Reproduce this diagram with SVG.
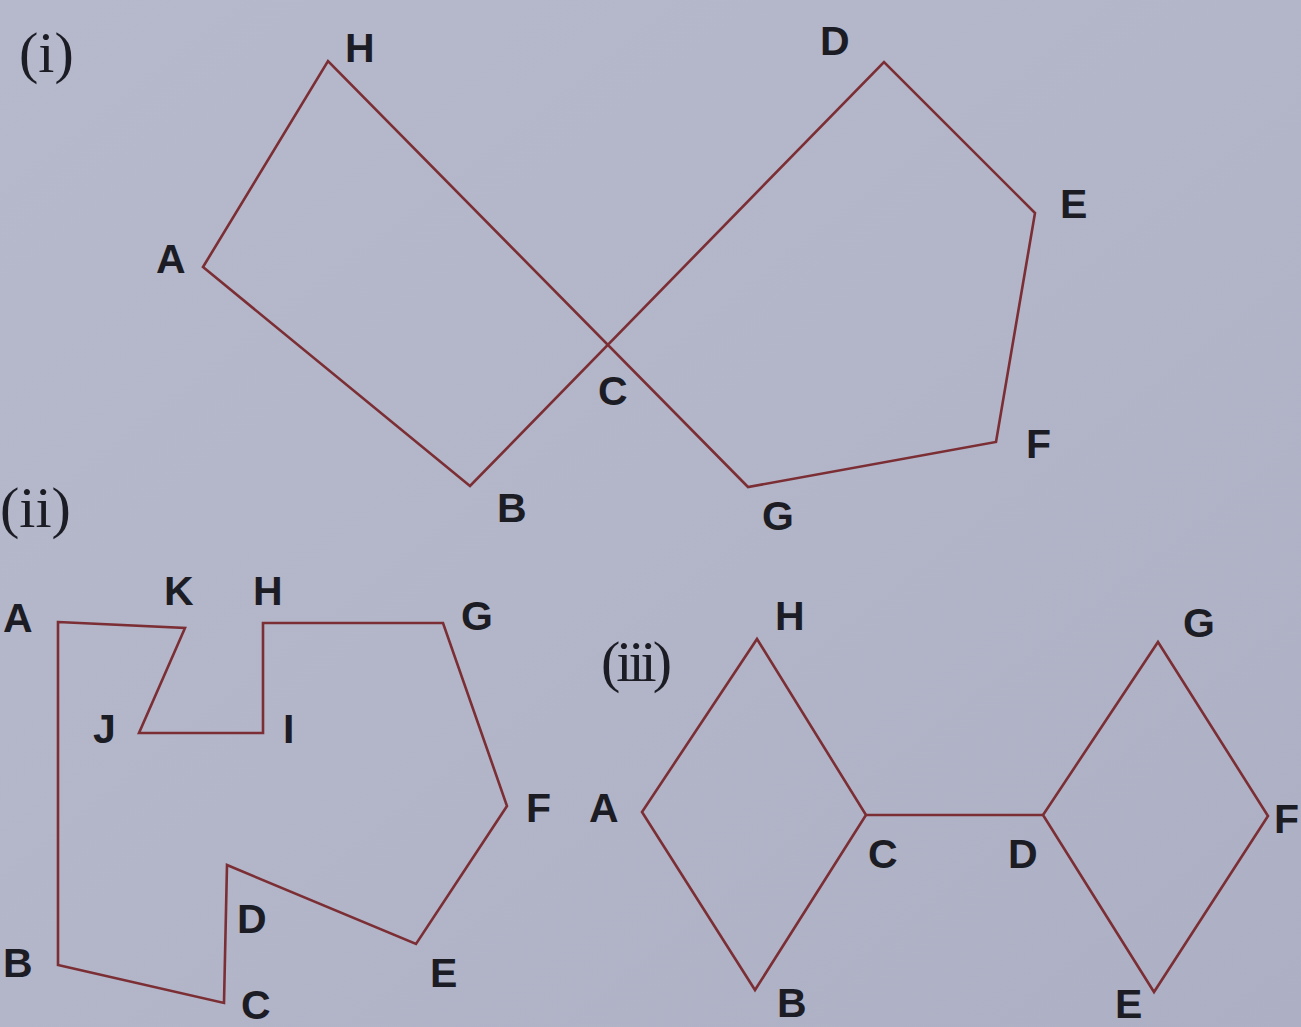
<svg xmlns="http://www.w3.org/2000/svg" width="1301" height="1027" viewBox="0 0 1301 1027">
  <defs>
    <linearGradient id="bg" x1="0" y1="0" x2="1" y2="1">
      <stop offset="0" stop-color="#b6b8cb"/>
      <stop offset="0.5" stop-color="#b3b5c9"/>
      <stop offset="1" stop-color="#adafc4"/>
    </linearGradient>
    <style>
      .edge { fill: none; stroke: #7b2e33; stroke-width: 2.6; stroke-linejoin: miter; }
      .lbl { font-family: "Liberation Sans", Arial, sans-serif; font-size: 41px; font-weight: bold; fill: #1c1c24; }
      .num { font-family: "Liberation Serif", "Times New Roman", serif; font-size: 58px; fill: #1c1c24; }
    </style>
  </defs>
  <rect x="0" y="0" width="1301" height="1027" fill="url(#bg)"/>

  <!-- Figure (i) -->
  <g id="fig-i">
    <text class="num" x="19" y="72">(i)</text>
    <g id="connectors-i">
      <polygon class="edge" points="203,267 328,61 748,487 996,442 1035,213 884,62 470,486"/>
    </g>
    <g id="i-H"><text class="lbl" x="345" y="62">H</text></g>
    <g id="i-A"><text class="lbl" x="156" y="273">A</text></g>
    <g id="i-B"><text class="lbl" x="497" y="522">B</text></g>
    <g id="i-C"><text class="lbl" x="598" y="405">C</text></g>
    <g id="i-D"><text class="lbl" x="820" y="55">D</text></g>
    <g id="i-E"><text class="lbl" x="1060" y="218">E</text></g>
    <g id="i-F"><text class="lbl" x="1026" y="458">F</text></g>
    <g id="i-G"><text class="lbl" x="762" y="530">G</text></g>
  </g>

  <!-- Figure (ii) -->
  <g id="fig-ii">
    <text class="num" x="0" y="527">(ii)</text>
    <g id="connectors-ii">
      <polygon class="edge" points="58,622 185,628 139,733 263,733 263,623 443,623 507,806 416,944 227,865 224,1003 58,965"/>
    </g>
    <g id="ii-A"><text class="lbl" x="3" y="632">A</text></g>
    <g id="ii-K"><text class="lbl" x="164" y="605">K</text></g>
    <g id="ii-H"><text class="lbl" x="253" y="605">H</text></g>
    <g id="ii-G"><text class="lbl" x="461" y="630">G</text></g>
    <g id="ii-J"><text class="lbl" x="93" y="743">J</text></g>
    <g id="ii-I"><text class="lbl" x="283" y="743">I</text></g>
    <g id="ii-F"><text class="lbl" x="526" y="822">F</text></g>
    <g id="ii-D"><text class="lbl" x="237" y="933">D</text></g>
    <g id="ii-B"><text class="lbl" x="3" y="977">B</text></g>
    <g id="ii-E"><text class="lbl" x="430" y="987">E</text></g>
    <g id="ii-C"><text class="lbl" x="241" y="1019">C</text></g>
  </g>

  <!-- Figure (iii) -->
  <g id="fig-iii">
    <text class="num" x="601" y="681" letter-spacing="-4">(iii)</text>
    <g id="connectors-iii">
      <polygon class="edge" points="757,639 866,815 755,990 642,812"/>
      <line class="edge" x1="866" y1="815" x2="1043" y2="815"/>
      <polygon class="edge" points="1158,642 1268,816 1154,992 1043,815"/>
    </g>
    <g id="iii-H"><text class="lbl" x="775" y="630">H</text></g>
    <g id="iii-A"><text class="lbl" x="589" y="822">A</text></g>
    <g id="iii-C"><text class="lbl" x="868" y="868">C</text></g>
    <g id="iii-D"><text class="lbl" x="1008" y="868">D</text></g>
    <g id="iii-B"><text class="lbl" x="777" y="1017">B</text></g>
    <g id="iii-E"><text class="lbl" x="1115" y="1018">E</text></g>
    <g id="iii-G"><text class="lbl" x="1183" y="637">G</text></g>
    <g id="iii-F"><text class="lbl" x="1274" y="833">F</text></g>
  </g>
</svg>
